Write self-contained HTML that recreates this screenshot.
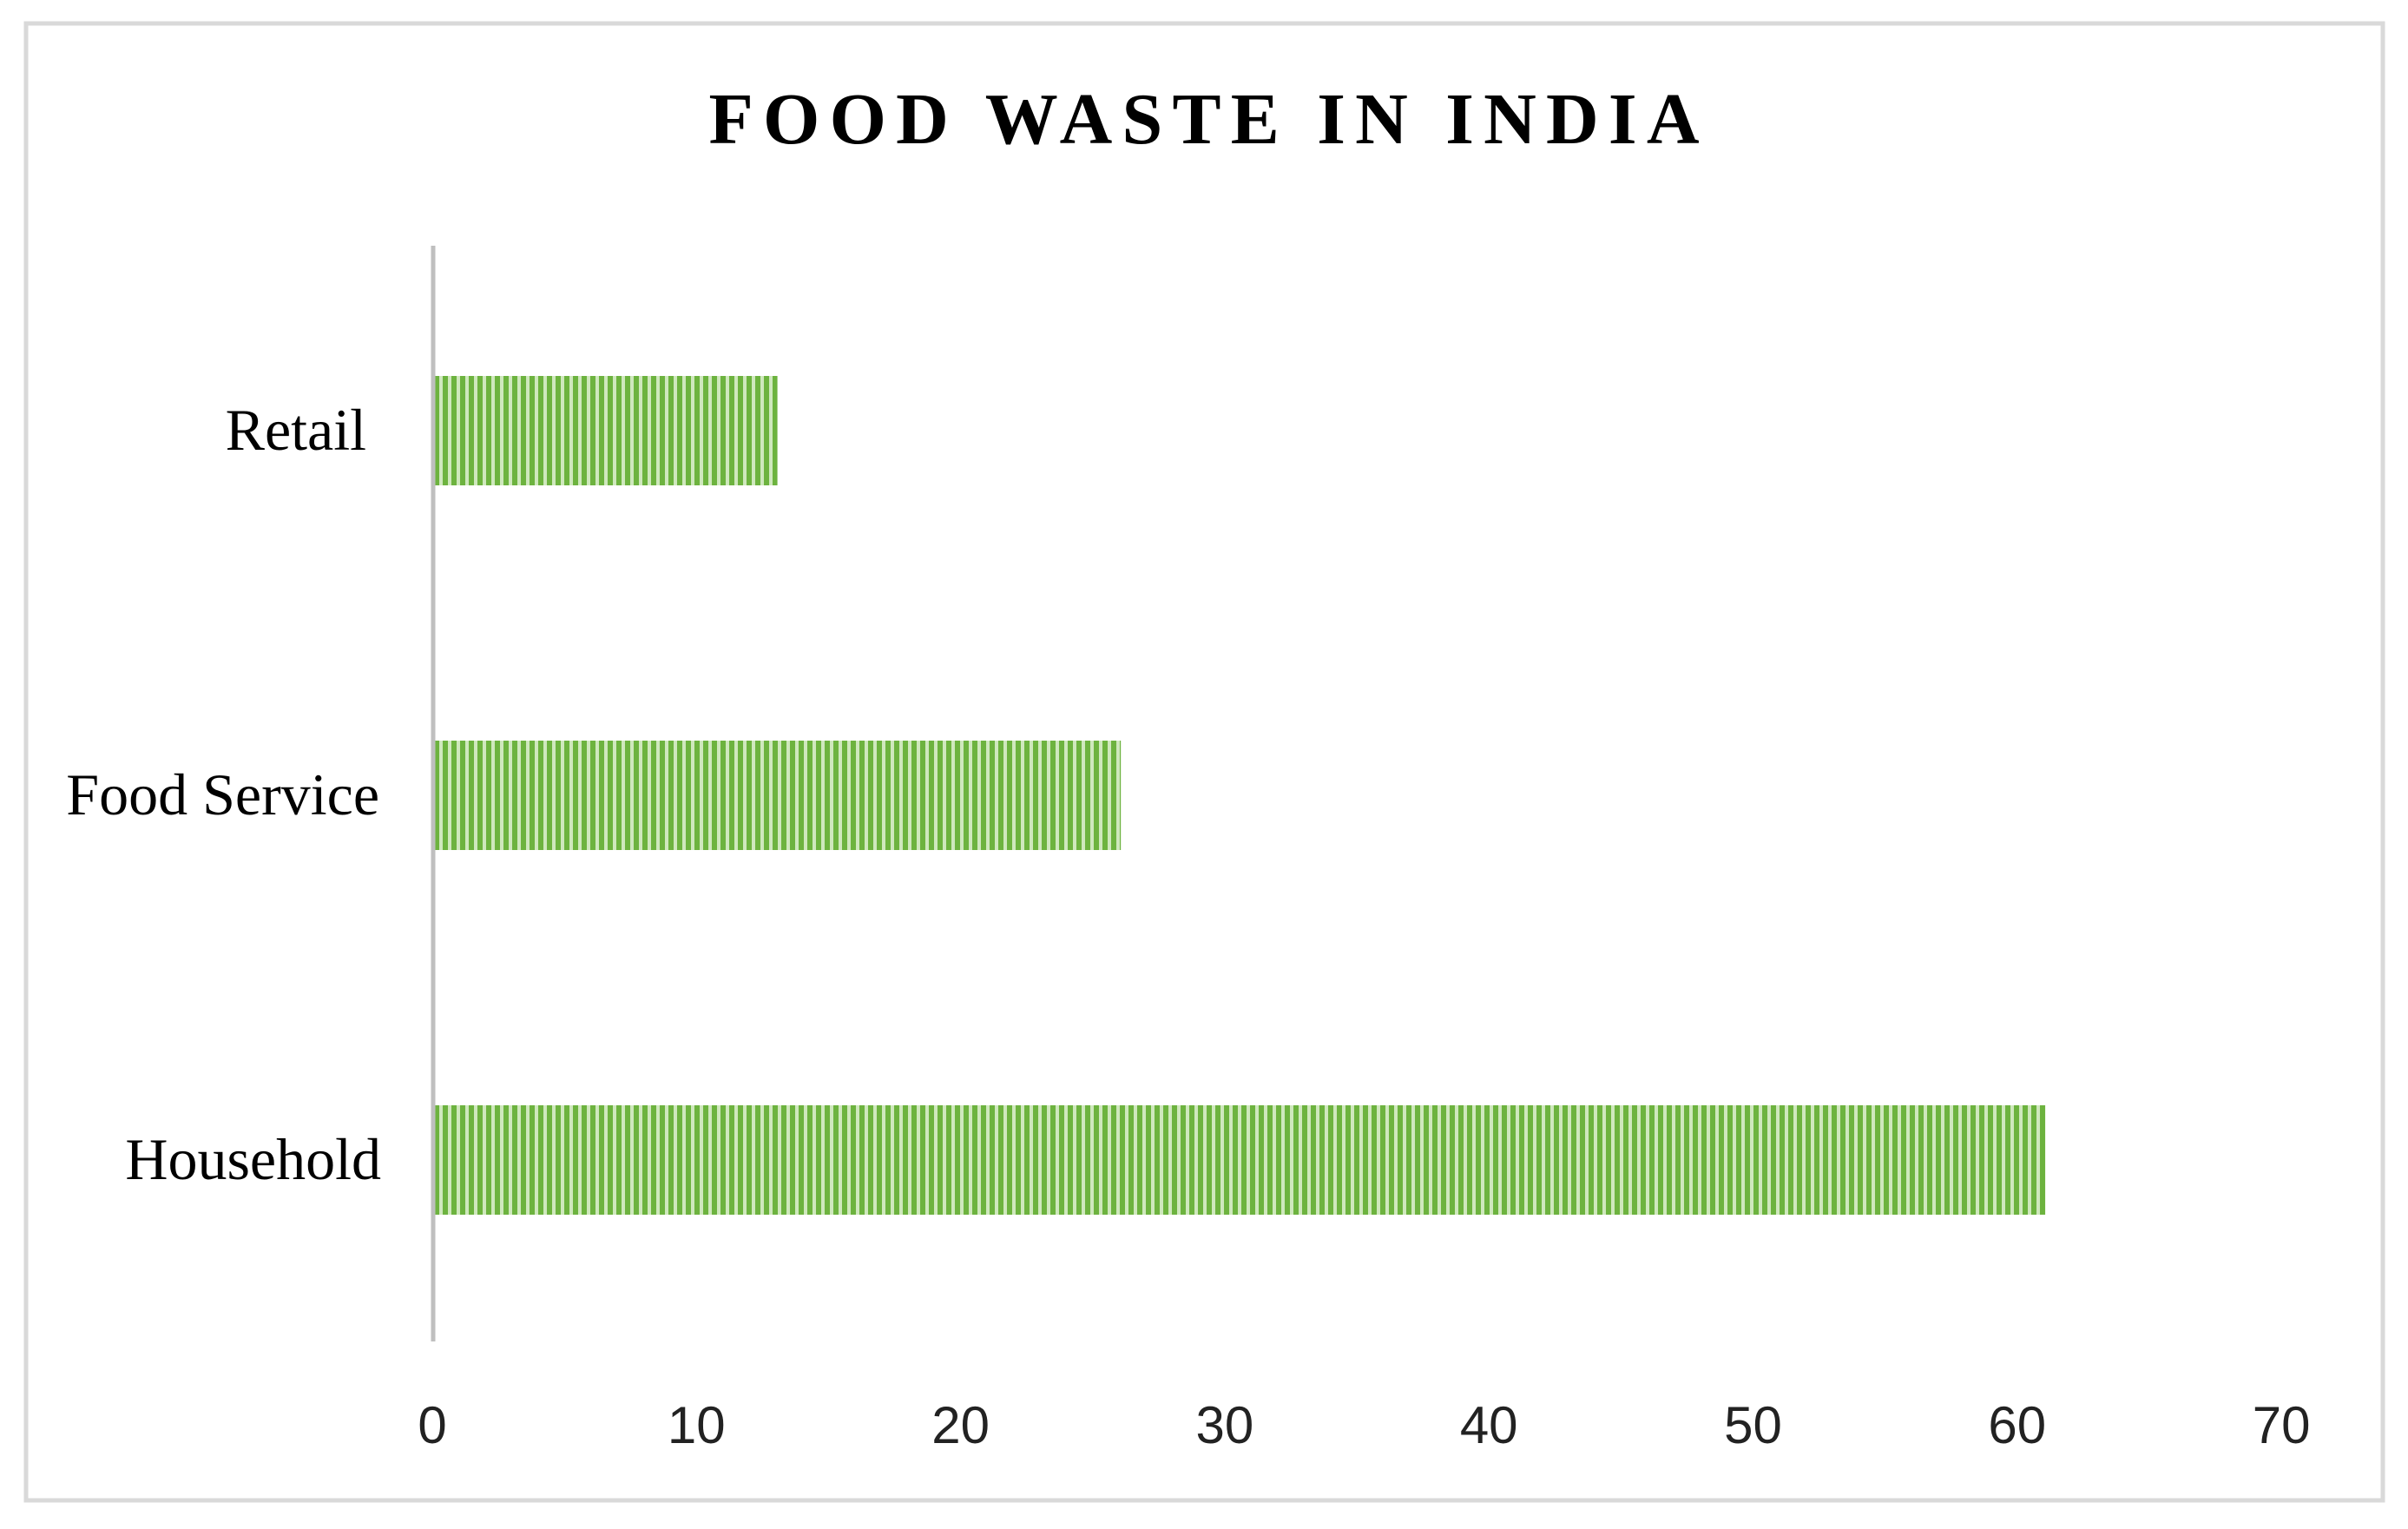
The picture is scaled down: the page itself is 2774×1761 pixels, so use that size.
<!DOCTYPE html>
<html><head><meta charset="utf-8"><style>
html,body{margin:0;padding:0;background:#fff;}
svg{display:block;}
</style></head><body>
<svg id="chart" width="2774" height="1761" viewBox="0 0 2774 1761" xmlns="http://www.w3.org/2000/svg">
<defs>
<pattern id="stripes" patternUnits="userSpaceOnUse" width="10" height="10">
<rect x="0" y="0" width="10" height="10" fill="#cfe8bd"/>
<rect x="0" y="0" width="6" height="10" fill="#6db33f"/>
</pattern>
</defs>
<rect x="30" y="27" width="2715" height="1701" fill="#fff" stroke="#d9d9d9" stroke-width="5"/>
<text x="1387" y="165" text-anchor="middle" font-family="Liberation Serif, serif" font-weight="bold" font-size="84" textLength="1141" lengthAdjust="spacing">FOOD WASTE IN INDIA</text>
<g id="bars"></g>
<g id="cats"></g>
<g id="ticks"></g>
<line x1="499" y1="283" x2="499" y2="1545" stroke="#bfbfbf" stroke-width="5"/>
</svg>
<script>
const categories = ["Retail", "Food Service", "Household"];
const values = [13, 26, 61];
const tickValues = [0, 10, 20, 30, 40, 50, 60, 70];

const NS = "http://www.w3.org/2000/svg";
const x0 = 500, xPer = 304.3 / 10;
function xScale(v){ return x0 + v * xPer; }
const rowH = 420;
function yCenter(i){ return 496 + i * rowH; }
const barH = 126;
const labelRight = [422, 437, 439];

const barsG = document.getElementById("bars");
const catsG = document.getElementById("cats");
const ticksG = document.getElementById("ticks");

categories.forEach((c, i) => {
  const r = document.createElementNS(NS, "rect");
  r.setAttribute("x", xScale(0));
  r.setAttribute("y", yCenter(i) - barH/2);
  r.setAttribute("width", xScale(values[i]) - xScale(0));
  r.setAttribute("height", barH);
  r.setAttribute("fill", "url(#stripes)");
  
  
  barsG.appendChild(r);

  const t = document.createElementNS(NS, "text");
  t.setAttribute("x", labelRight[i]);
  t.setAttribute("y", yCenter(i) + 22);
  t.setAttribute("text-anchor", "end");
  t.setAttribute("font-family", "Liberation Serif, serif");
  t.setAttribute("font-size", "68");
  t.textContent = c;
  
  
  catsG.appendChild(t);
});

tickValues.forEach(v => {
  const t = document.createElementNS(NS, "text");
  t.setAttribute("x", xScale(v) - 2);
  t.setAttribute("y", 1662);
  t.setAttribute("text-anchor", "middle");
  t.setAttribute("font-family", "Liberation Sans, sans-serif");
  t.setAttribute("font-size", "60");
  t.setAttribute("fill", "#222");
  t.textContent = v;
  
  
  ticksG.appendChild(t);
});
</script>
</body></html>
